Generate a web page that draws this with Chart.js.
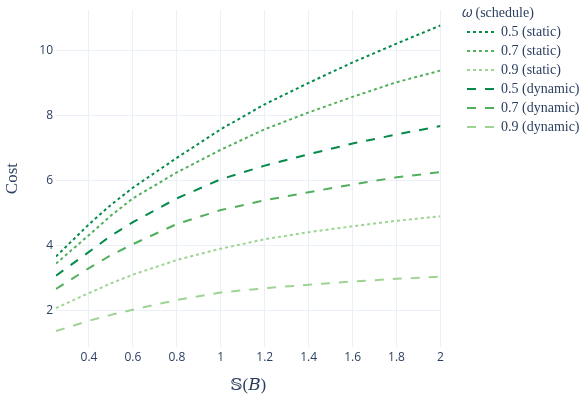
<!DOCTYPE html>
<html>
<head>
<meta charset="utf-8">
<script src="https://cdn.jsdelivr.net/npm/chart.js@4.4.1/dist/chart.umd.min.js"></script>
<style>
    body { margin: 0; background: #fff; }
</style>
</head>
<body>
<canvas id="costChart" width="588" height="400"></canvas>
<script>
// S(B) values on the x axis
const budgets = [0.25, 0.4, 0.5, 0.6, 0.8, 1, 1.2, 1.4, 1.6, 1.8, 2];

// cost per omega, static schedule
const static05 = [3.66, 4.65, 5.25, 5.78, 6.70, 7.58, 8.35, 9.01, 9.64, 10.22, 10.78];
const static07 = [3.44, 4.32, 4.92, 5.45, 6.25, 6.95, 7.58, 8.10, 8.58, 9.03, 9.39];
const static09 = [2.07, 2.53, 2.83, 3.10, 3.55, 3.90, 4.19, 4.41, 4.59, 4.76, 4.90];

// cost per omega, dynamic schedule
const dynamic05 = [3.07, 3.80, 4.30, 4.72, 5.45, 6.04, 6.46, 6.81, 7.14, 7.42, 7.68];
const dynamic07 = [2.66, 3.30, 3.70, 4.04, 4.66, 5.09, 5.39, 5.64, 5.88, 6.10, 6.26];
const dynamic09 = [1.36, 1.68, 1.86, 2.02, 2.32, 2.55, 2.68, 2.79, 2.89, 2.97, 3.04];

const seriesLabels = ['0.5 (static)', '0.7 (static)', '0.9 (static)',
    '0.5 (dynamic)', '0.7 (dynamic)', '0.9 (dynamic)'];

const xTicks = [0.4, 0.6, 0.8, 1, 1.2, 1.4, 1.6, 1.8, 2];
const yTicks = [2, 4, 6, 8, 10];

const textColor = '#2a3f5f';
const gridColor = '#ebf0f8';
const serif = "'Liberation Serif', 'DejaVu Serif', serif";

function makeSeries(label, values, color, dash) {
    return {
        label: label,
        data: budgets.map((b, i) => ({ x: b, y: values[i] })),
        borderColor: color,
        backgroundColor: color,
        borderWidth: 2,
        borderDash: dash,
        pointRadius: 0,
        tension: 0,
        fill: false
    };
}

const dot = [3, 3];
const dash = [9, 9];

// legend sits a bit right of the plot, like the original
const legendShift = {
    id: 'legendShift',
    afterLayout(chart) {
        const lg = chart.legend;
        const dx = 462 - lg.left;
        lg.left += dx;
        lg.right += dx;
    }
};

const ctx = document.getElementById('costChart').getContext('2d');
new Chart(ctx, {
    type: 'line',
    data: {
        datasets: [
            makeSeries(seriesLabels[0], static05, '#068a4a', dot),
            makeSeries(seriesLabels[1], static07, '#52b05c', dot),
            makeSeries(seriesLabels[2], static09, '#9ed493', dot),
            makeSeries(seriesLabels[3], dynamic05, '#068a4a', dash),
            makeSeries(seriesLabels[4], dynamic07, '#52b05c', dash),
            makeSeries(seriesLabels[5], dynamic09, '#9ed493', dash)
        ]
    },
    options: {
        responsive: false,
        animation: false,
        layout: { padding: { top: 6, right: 20, bottom: 0, left: 0 } },
        plugins: {
            tooltip: { enabled: false },
            legend: {
                position: 'right',
                align: 'start',
                title: {
                    display: true,
                    text: '𝜔 (schedule)',
                    position: 'start',
                    color: textColor,
                    padding: 0,
                    font: { family: serif, size: 14, lineHeight: 1.0 }
                },
                labels: {
                    usePointStyle: true,
                    pointStyle: 'line',
                    pointStyleWidth: 27,
                    padding: 5,
                    color: textColor,
                    font: { family: serif, size: 14 },
                    generateLabels: chart => {
                        const items = Chart.defaults.plugins.legend.labels.generateLabels(chart);
                        items.forEach(item => {
                            const ds = chart.data.datasets[item.datasetIndex];
                            item.lineDash = ds.borderDash;
                            item.lineWidth = ds.borderWidth;
                            item.strokeStyle = ds.borderColor;
                        });
                        return items;
                    }
                }
            }
        },
        scales: {
            x: {
                type: 'linear',
                min: 0.25,
                max: 2,
                afterBuildTicks: s => { s.ticks = xTicks.map(v => ({ value: v })); },
                afterFit: s => { s.height = 53; },
                ticks: {
                    padding: 3,
                    color: textColor,
                    font: { family: 'Open Sans', size: 12 },
                    callback: v => String(v)
                },
                grid: { color: gridColor, drawTicks: false },
                border: { display: false },
                title: {
                    display: true,
                    text: '𝕊(𝐵)',
                    color: textColor,
                    padding: { top: 0, bottom: 4 },
                    font: { family: serif, size: 17 }
                }
            },
            y: {
                min: 0.87,
                max: 11.25,
                afterBuildTicks: s => { s.ticks = yTicks.map(v => ({ value: v })); },
                afterFit: s => { s.width = 56; },
                ticks: {
                    padding: 3,
                    color: textColor,
                    font: { family: 'Open Sans', size: 12 },
                    callback: v => String(v)
                },
                grid: { color: gridColor, drawTicks: false },
                border: { display: false },
                title: {
                    display: true,
                    text: 'Cost',
                    color: textColor,
                    padding: { top: 2, bottom: 0 },
                    font: { family: serif, size: 17 }
                }
            }
        }
    },
    plugins: [legendShift]
});
</script>
</body>
</html>
